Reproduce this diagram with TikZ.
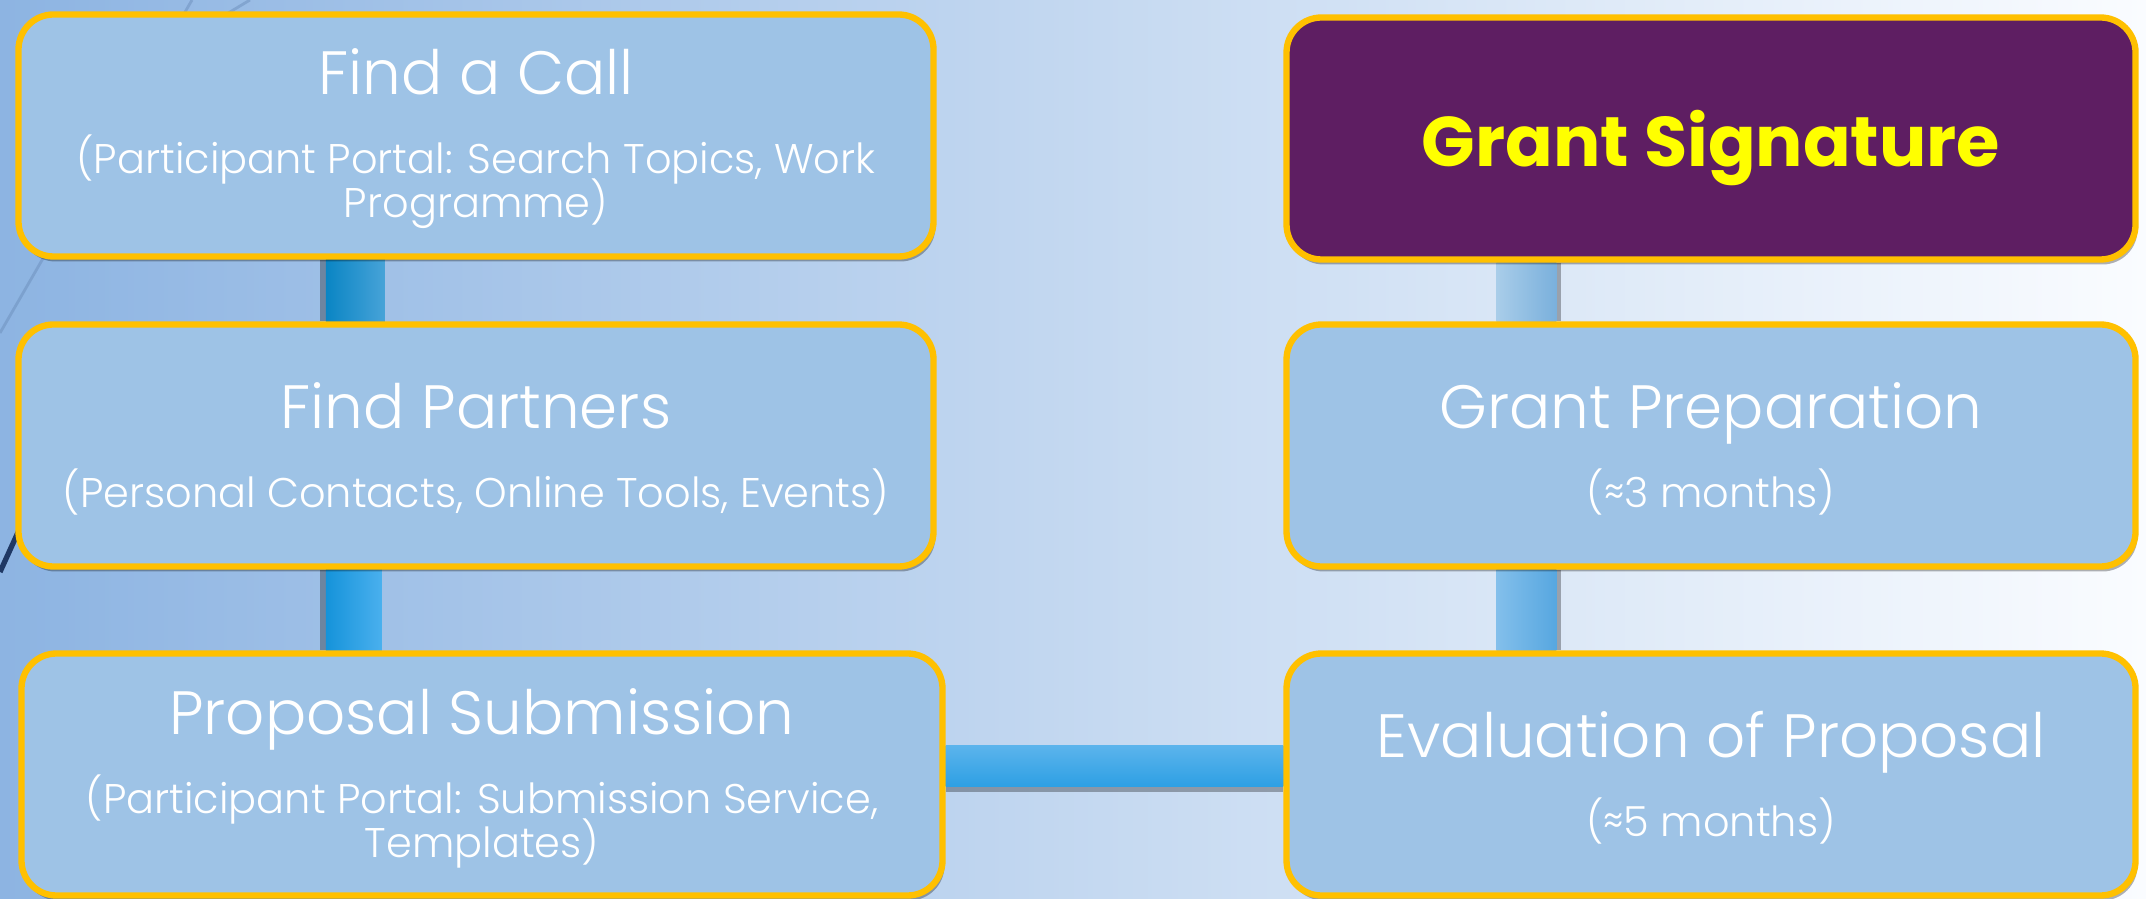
\documentclass[tikz,border=0pt]{standalone}
\usepackage{fontspec}
\setmainfont{Poppins}[UprightFont={* Light}, BoldFont={* Bold}]
\usepackage{xcolor}
\usetikzlibrary{calc, shadows, backgrounds}

\definecolor{boxblue}{RGB}{158,195,230}
\definecolor{gold}{RGB}{255,192,0}
\definecolor{plum}{RGB}{94,30,98}
\definecolor{signyellow}{RGB}{255,255,0}
\definecolor{bgleft}{RGB}{141,180,226}
\definecolor{bgmid}{RGB}{212,226,244}
\definecolor{bgright}{RGB}{250,252,255}
\definecolor{navy}{RGB}{31,56,100}

\setlength{\lineskiplimit}{-100pt}
\newcommand{\phasetitle}[1]{{\fontsize{17.4}{22}\selectfont\rule{0pt}{15pt}#1}\\[10pt]}

\begin{document}
\begin{tikzpicture}[font=\fontsize{11.8}{12.5}\selectfont]
	\tikzstyle{phase} = [draw=gold, line width=1.8pt, fill=boxblue, rounded corners=0.35cm, text=white, align=center, minimum width=9.15cm, minimum height=2.42cm, inner sep=0pt, drop shadow={shadow xshift=0.02cm, shadow yshift=-0.05cm, fill=black, opacity=0.3}]
	\tikzstyle{milestone} = [phase, fill=plum, text=signyellow, text depth=0pt, font=\fontsize{20}{24}\selectfont\bfseries]
	\tikzstyle{barshade} = [fill=black, opacity=0.3]
	
	\useasboundingbox (0, 0) rectangle (21.46, 8.98);
	
	\node[phase]	at (4.76, 7.625)	(call)	{\phasetitle{Find a Call}(Participant Portal: Search Topics, Work\\Programme)};
	\node[phase]	at (4.76, 4.525)	(partners)	{\phasetitle{Find Partners}(Personal Contacts, Online Tools, Events)};
	\node[phase, minimum width=9.21cm]	at (4.82, 1.235)	(proposal)	{\phasetitle{Proposal Submission}(Participant Portal: Submission Service,\\Templates)};
	\node[milestone, minimum width=8.49cm]	at (17.11, 7.595)	(signature)	{Grant Signature};
	\node[phase, minimum width=8.49cm]	at (17.11, 4.525)	(preparation)	{\phasetitle{Grant Preparation}(≈3 months)};
	\node[phase, minimum width=8.49cm]	at (17.11, 1.235)	(evaluation)	{\phasetitle{Evaluation of Proposal}(≈5 months)};
	
	\begin{scope}[on background layer]
		\shade[left color=bgleft, middle color=bgmid, right color=bgright] (0, 0) rectangle (21.46, 8.98);
		\draw[bgleft!70!navy, opacity=0.5, line width=0.8pt] (1.92, 8.98) -- (0, 5.65);
		\draw[bgleft!70!navy, opacity=0.5, line width=0.8pt] (2.5, 8.98) -- (2.2, 8.8);
		\draw[navy, line width=1.5pt] (0, 3.26) -- (0.3, 3.92);
		
		% left column bars
		\fill[barshade] ($(call.south west)+(3.045, 0)$) rectangle ($(partners.north west)+(3.2, 0)$);
		\shade[left color={rgb,255:red,10;green,133;blue,196}, right color={rgb,255:red,71;green,163;blue,216}] ($(call.south west)+(3.105, 0)$) rectangle ($(partners.north west)+(3.695, 0)$);
		\fill[barshade] ($(partners.south west)+(3.045, 0)$) rectangle ($(proposal.north west)+(3.2, 0)$);
		\shade[left color={rgb,255:red,21;green,147;blue,218}, right color={rgb,255:red,74;green,176;blue,238}] ($(partners.south west)+(3.105, 0)$) rectangle ($(proposal.north west)+(3.635, 0)$);
		
		% right column bars
		\fill[barshade] ($(signature.south west)+(2.5, 0)$) rectangle ($(preparation.north west)+(2.78, 0)$);
		\shade[left color={rgb,255:red,169;green,205;blue,233}, right color={rgb,255:red,122;green,176;blue,220}] ($(signature.south west)+(2.13, 0)$) rectangle ($(preparation.north west)+(2.73, 0)$);
		\fill[barshade] ($(preparation.south west)+(2.5, 0)$) rectangle ($(evaluation.north west)+(2.78, 0)$);
		\shade[left color={rgb,255:red,131;green,191;blue,235}, right color={rgb,255:red,87;green,167;blue,224}] ($(preparation.south west)+(2.13, 0)$) rectangle ($(evaluation.north west)+(2.73, 0)$);
		
		% link between columns
		\fill[barshade] ($(proposal.east)+(0, -0.05)$) rectangle ($(evaluation.west)+(0, -0.175)$);
		\shade[top color={rgb,255:red,91;green,180;blue,236}, bottom color={rgb,255:red,46;green,160;blue,228}] ($(proposal.east)+(0, 0.285)$) rectangle ($(evaluation.west)+(0, -0.115)$);
	\end{scope}
\end{tikzpicture}
\end{document}
